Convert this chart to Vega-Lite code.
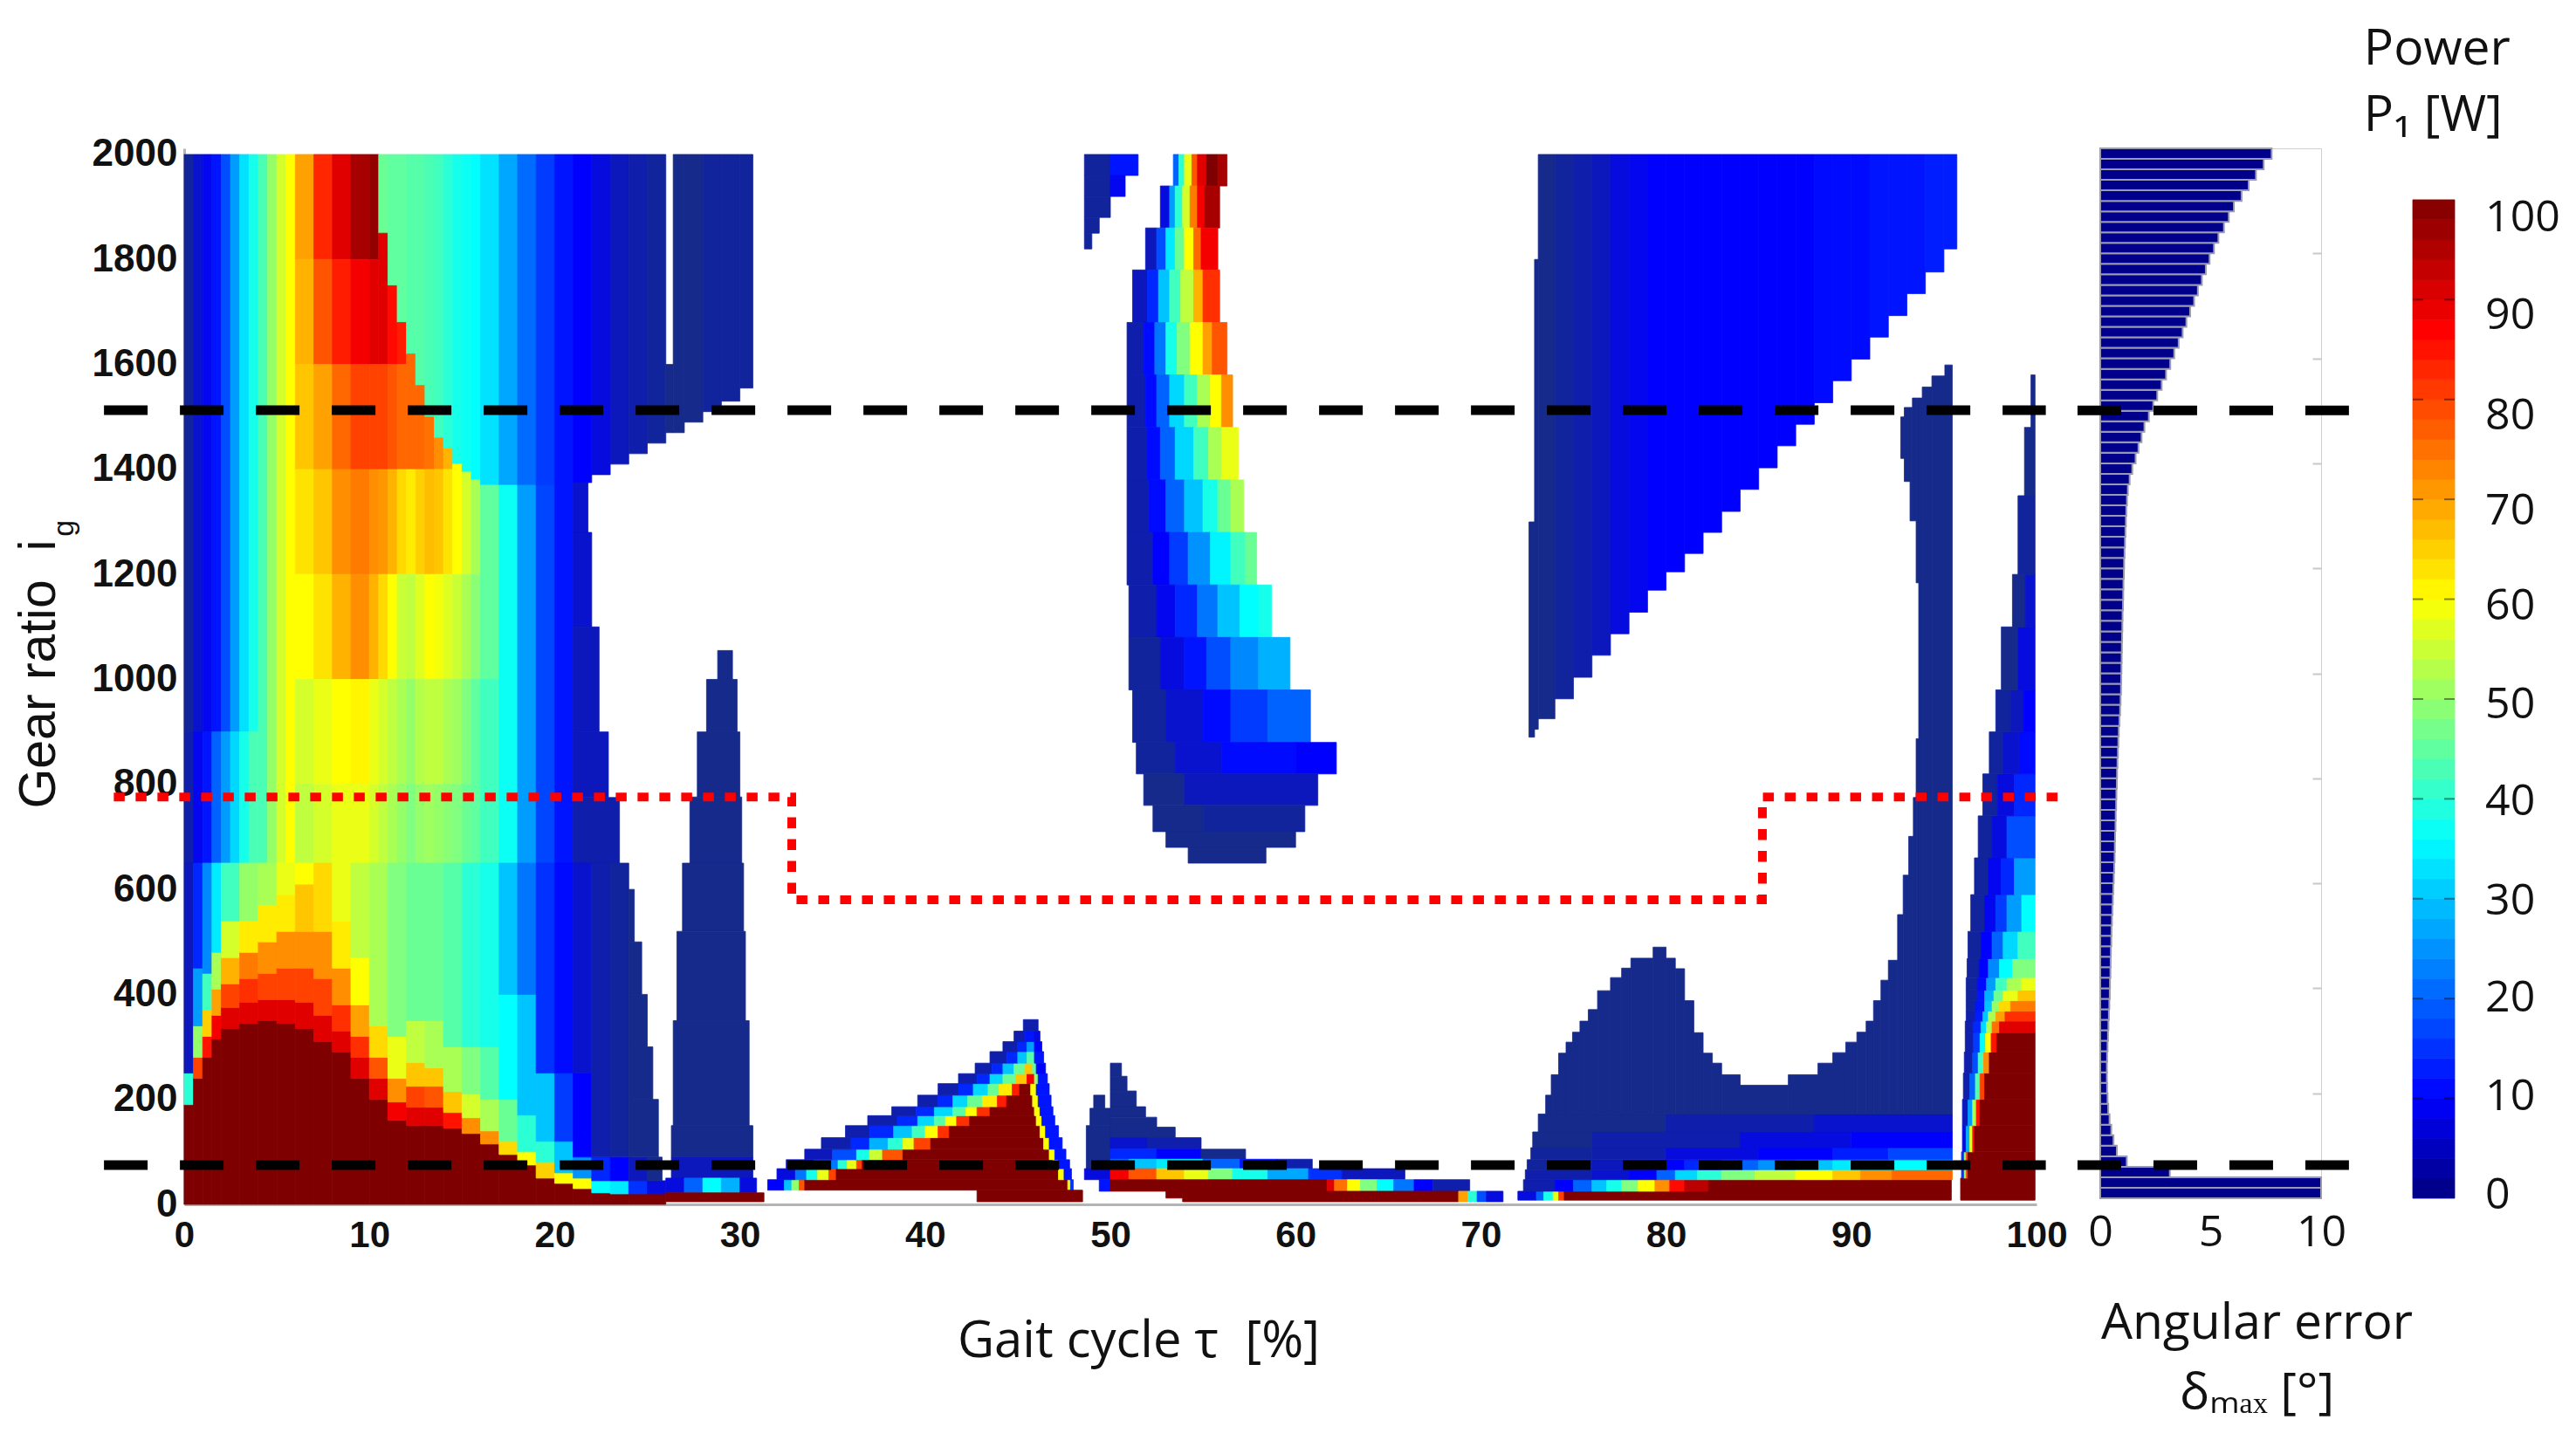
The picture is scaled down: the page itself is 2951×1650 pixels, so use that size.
{"$schema":"https://vega.github.io/schema/vega-lite/v6.json","padding":{"left":15,"top":28,"right":0,"bottom":0},"background":"white","config":{"view":{"stroke":null}},"datasets":{"h":[
{"a":0,"b":0.5,"c":900,"d":2000,"p":4},{"a":0.5,"b":1,"c":900,"d":2000,"p":7},{"a":1,"b":1.5,"c":900,"d":2000,"p":9},{"a":1.5,"b":2,"c":900,"d":2000,"p":12},{"a":2,"b":2.5,"c":900,"d":2000,"p":18},{"a":2.5,"b":3,"c":900,"d":2000,"p":26},{"a":3,"b":3.5,"c":900,"d":2000,"p":33},{"a":3.5,"b":4,"c":900,"d":2000,"p":38},
{"a":0,"b":0.5,"c":650,"d":900,"p":5},{"a":0.5,"b":1,"c":650,"d":900,"p":9},{"a":1,"b":1.5,"c":650,"d":900,"p":12},{"a":1.5,"b":2,"c":650,"d":900,"p":20},{"a":2,"b":2.5,"c":650,"d":900,"p":26},{"a":2.5,"b":3,"c":650,"d":900,"p":32},{"a":3,"b":3.5,"c":650,"d":900,"p":38},{"a":3.5,"b":4,"c":650,"d":900,"p":43},
{"a":4,"b":4.5,"c":650,"d":2000,"p":43},{"a":4.5,"b":5,"c":650,"d":2000,"p":50},{"a":5,"b":5.5,"c":650,"d":2000,"p":56},{"a":5.5,"b":6,"c":650,"d":2000,"p":60},
{"a":6,"b":7,"c":1800,"d":2000,"p":70},{"a":6,"b":7,"c":1600,"d":1800,"p":68},{"a":6,"b":7,"c":1400,"d":1600,"p":66},{"a":6,"b":7,"c":1200,"d":1400,"p":63},{"a":6,"b":7,"c":1000,"d":1200,"p":60},{"a":6,"b":7,"c":800,"d":1000,"p":56},{"a":6,"b":7,"c":650,"d":800,"p":54},
{"a":7,"b":8,"c":1800,"d":2000,"p":83},{"a":7,"b":8,"c":1600,"d":1800,"p":78},{"a":7,"b":8,"c":1400,"d":1600,"p":70},{"a":7,"b":8,"c":1200,"d":1400,"p":66},{"a":7,"b":8,"c":1000,"d":1200,"p":63},{"a":7,"b":8,"c":800,"d":1000,"p":58},{"a":7,"b":8,"c":650,"d":800,"p":56},
{"a":8,"b":9,"c":1800,"d":2000,"p":90},{"a":8,"b":9,"c":1600,"d":1800,"p":84},{"a":8,"b":9,"c":1400,"d":1600,"p":76},{"a":8,"b":9,"c":1200,"d":1400,"p":72},{"a":8,"b":9,"c":1000,"d":1200,"p":68},{"a":8,"b":9,"c":800,"d":1000,"p":60},{"a":8,"b":9,"c":650,"d":800,"p":58},
{"a":9,"b":10,"c":1800,"d":2000,"p":96},{"a":9,"b":10,"c":1600,"d":1800,"p":88},{"a":9,"b":10,"c":1400,"d":1600,"p":80},{"a":9,"b":10,"c":1200,"d":1400,"p":74},{"a":9,"b":10,"c":1000,"d":1200,"p":72},{"a":9,"b":10,"c":800,"d":1000,"p":61},{"a":9,"b":10,"c":650,"d":800,"p":58},
{"a":10,"b":10.5,"c":1800,"d":2000,"p":98},{"a":10,"b":10.5,"c":1600,"d":1800,"p":90},{"a":10,"b":10.5,"c":1400,"d":1600,"p":80},{"a":10,"b":10.5,"c":1200,"d":1400,"p":72},{"a":10,"b":10.5,"c":1000,"d":1200,"p":68},{"a":10,"b":10.5,"c":800,"d":1000,"p":58},{"a":10,"b":10.5,"c":650,"d":800,"p":56},
{"a":10.5,"b":11,"c":1850,"d":2000,"p":46},{"a":10.5,"b":11,"c":1600,"d":1850,"p":90},{"a":10.5,"b":11,"c":1400,"d":1600,"p":80},{"a":10.5,"b":11,"c":1200,"d":1400,"p":71},{"a":10.5,"b":11,"c":1000,"d":1200,"p":64},{"a":10.5,"b":11,"c":800,"d":1000,"p":56},{"a":10.5,"b":11,"c":650,"d":800,"p":54},
{"a":11,"b":11.5,"c":1750,"d":2000,"p":45},{"a":11,"b":11.5,"c":1600,"d":1750,"p":86},{"a":11,"b":11.5,"c":1400,"d":1600,"p":78},{"a":11,"b":11.5,"c":1200,"d":1400,"p":68},{"a":11,"b":11.5,"c":1000,"d":1200,"p":60},{"a":11,"b":11.5,"c":800,"d":1000,"p":54},{"a":11,"b":11.5,"c":650,"d":800,"p":52},
{"a":11.5,"b":12,"c":1680,"d":2000,"p":45},{"a":11.5,"b":12,"c":1600,"d":1680,"p":84},{"a":11.5,"b":12,"c":1400,"d":1600,"p":76},{"a":11.5,"b":12,"c":1200,"d":1400,"p":64},{"a":11.5,"b":12,"c":1000,"d":1200,"p":55},{"a":11.5,"b":12,"c":800,"d":1000,"p":52},{"a":11.5,"b":12,"c":650,"d":800,"p":50},
{"a":12,"b":12.5,"c":1620,"d":2000,"p":44},{"a":12,"b":12.5,"c":1400,"d":1620,"p":76},{"a":12,"b":12.5,"c":1200,"d":1400,"p":62},{"a":12,"b":12.5,"c":1000,"d":1200,"p":54},{"a":12,"b":12.5,"c":800,"d":1000,"p":50},{"a":12,"b":12.5,"c":650,"d":800,"p":48},
{"a":12.5,"b":13,"c":1560,"d":2000,"p":44},{"a":12.5,"b":13,"c":1400,"d":1560,"p":76},{"a":12.5,"b":13,"c":1200,"d":1400,"p":65},{"a":12.5,"b":13,"c":1000,"d":1200,"p":57},{"a":12.5,"b":13,"c":800,"d":1000,"p":53},{"a":12.5,"b":13,"c":650,"d":800,"p":50},
{"a":13,"b":13.5,"c":1500,"d":2000,"p":43},{"a":13,"b":13.5,"c":1400,"d":1500,"p":75},{"a":13,"b":13.5,"c":1200,"d":1400,"p":67},{"a":13,"b":13.5,"c":1000,"d":1200,"p":60},{"a":13,"b":13.5,"c":800,"d":1000,"p":54},{"a":13,"b":13.5,"c":650,"d":800,"p":51},
{"a":13.5,"b":14,"c":1460,"d":2000,"p":42},{"a":13.5,"b":14,"c":1400,"d":1460,"p":72},{"a":13.5,"b":14,"c":1200,"d":1400,"p":66},{"a":13.5,"b":14,"c":1000,"d":1200,"p":59},{"a":13.5,"b":14,"c":800,"d":1000,"p":54},{"a":13.5,"b":14,"c":650,"d":800,"p":50},
{"a":14,"b":14.5,"c":1440,"d":2000,"p":40},{"a":14,"b":14.5,"c":1400,"d":1440,"p":68},{"a":14,"b":14.5,"c":1200,"d":1400,"p":63},{"a":14,"b":14.5,"c":1000,"d":1200,"p":57},{"a":14,"b":14.5,"c":800,"d":1000,"p":52},{"a":14,"b":14.5,"c":650,"d":800,"p":49},
{"a":14.5,"b":15,"c":1410,"d":2000,"p":38},{"a":14.5,"b":15,"c":1200,"d":1410,"p":60},{"a":14.5,"b":15,"c":1000,"d":1200,"p":55},{"a":14.5,"b":15,"c":800,"d":1000,"p":51},{"a":14.5,"b":15,"c":650,"d":800,"p":48},
{"a":15,"b":15.5,"c":1395,"d":2000,"p":37},{"a":15,"b":15.5,"c":1200,"d":1395,"p":56},{"a":15,"b":15.5,"c":1000,"d":1200,"p":52},{"a":15,"b":15.5,"c":800,"d":1000,"p":48},{"a":15,"b":15.5,"c":650,"d":800,"p":46},
{"a":15.5,"b":16,"c":1380,"d":2000,"p":36},{"a":15.5,"b":16,"c":1200,"d":1380,"p":52},{"a":15.5,"b":16,"c":1000,"d":1200,"p":49},{"a":15.5,"b":16,"c":650,"d":1000,"p":45},
{"a":16,"b":17,"c":1370,"d":2000,"p":33},{"a":16,"b":17,"c":1000,"d":1370,"p":45},{"a":16,"b":17,"c":650,"d":1000,"p":42},
{"a":17,"b":18,"c":1370,"d":2000,"p":27},{"a":17,"b":18,"c":650,"d":1370,"p":37},
{"a":18,"b":19,"c":1370,"d":2000,"p":21},{"a":18,"b":19,"c":650,"d":1370,"p":26},
{"a":19,"b":20,"c":1370,"d":2000,"p":16},{"a":19,"b":20,"c":650,"d":1370,"p":17},
{"a":20,"b":21,"c":650,"d":2000,"p":12},
{"a":21,"b":22,"c":1375,"d":2000,"p":10},{"a":22,"b":23,"c":1390,"d":2000,"p":8},{"a":23,"b":24,"c":1410,"d":2000,"p":6},{"a":24,"b":25,"c":1430,"d":2000,"p":5},{"a":25,"b":26,"c":1450,"d":2000,"p":4},{"a":26,"b":26.4,"c":1470,"d":1600,"p":3},{"a":26.4,"b":27,"c":1470,"d":2000,"p":3},{"a":27,"b":28,"c":1490,"d":2000,"p":3},{"a":28,"b":29,"c":1510,"d":2000,"p":4},{"a":29,"b":30,"c":1530,"d":2000,"p":4},{"a":30,"b":30.7,"c":1555,"d":2000,"p":4},
{"a":21,"b":21.8,"c":1280,"d":1375,"p":7},{"a":21,"b":22,"c":1100,"d":1280,"p":7},{"a":21,"b":22.4,"c":900,"d":1100,"p":6},{"a":21,"b":22.9,"c":775,"d":900,"p":6},{"a":21,"b":23.5,"c":650,"d":775,"p":5},
{"a":0,"b":0.5,"c":0,"d":190,"p":100},{"a":0,"b":0.5,"c":190,"d":250,"p":40},{"a":0,"b":0.5,"c":250,"d":650,"p":6},
{"a":0.5,"b":1,"c":0,"d":240,"p":100},{"a":0.5,"b":1,"c":240,"d":280,"p":80},{"a":0.5,"b":1,"c":280,"d":340,"p":50},{"a":0.5,"b":1,"c":340,"d":450,"p":26},{"a":0.5,"b":1,"c":450,"d":650,"p":14},
{"a":1,"b":1.5,"c":0,"d":280,"p":100},{"a":1,"b":1.5,"c":280,"d":320,"p":85},{"a":1,"b":1.5,"c":320,"d":370,"p":65},{"a":1,"b":1.5,"c":370,"d":440,"p":42},{"a":1,"b":1.5,"c":440,"d":650,"p":24},
{"a":1.5,"b":2,"c":0,"d":315,"p":100},{"a":1.5,"b":2,"c":315,"d":360,"p":88},{"a":1.5,"b":2,"c":360,"d":410,"p":70},{"a":1.5,"b":2,"c":410,"d":480,"p":52},{"a":1.5,"b":2,"c":480,"d":650,"p":34},
{"a":2,"b":3,"c":0,"d":335,"p":100},{"a":2,"b":3,"c":335,"d":375,"p":90},{"a":2,"b":3,"c":375,"d":420,"p":80},{"a":2,"b":3,"c":420,"d":470,"p":68},{"a":2,"b":3,"c":470,"d":540,"p":56},{"a":2,"b":3,"c":540,"d":650,"p":42},
{"a":3,"b":4,"c":0,"d":345,"p":100},{"a":3,"b":4,"c":345,"d":385,"p":90},{"a":3,"b":4,"c":385,"d":430,"p":82},{"a":3,"b":4,"c":430,"d":480,"p":74},{"a":3,"b":4,"c":480,"d":540,"p":62},{"a":3,"b":4,"c":540,"d":650,"p":50},
{"a":4,"b":5,"c":0,"d":350,"p":100},{"a":4,"b":5,"c":350,"d":390,"p":90},{"a":4,"b":5,"c":390,"d":440,"p":80},{"a":4,"b":5,"c":440,"d":500,"p":72},{"a":4,"b":5,"c":500,"d":570,"p":62},{"a":4,"b":5,"c":570,"d":650,"p":52},
{"a":5,"b":6,"c":0,"d":345,"p":100},{"a":5,"b":6,"c":345,"d":390,"p":90},{"a":5,"b":6,"c":390,"d":450,"p":80},{"a":5,"b":6,"c":450,"d":520,"p":72},{"a":5,"b":6,"c":520,"d":590,"p":62},{"a":5,"b":6,"c":590,"d":650,"p":58},
{"a":6,"b":7,"c":0,"d":335,"p":100},{"a":6,"b":7,"c":335,"d":385,"p":90},{"a":6,"b":7,"c":385,"d":450,"p":80},{"a":6,"b":7,"c":450,"d":520,"p":72},{"a":6,"b":7,"c":520,"d":610,"p":66},{"a":6,"b":7,"c":610,"d":650,"p":60},
{"a":7,"b":8,"c":0,"d":310,"p":100},{"a":7,"b":8,"c":310,"d":360,"p":90},{"a":7,"b":8,"c":360,"d":430,"p":80},{"a":7,"b":8,"c":430,"d":520,"p":72},{"a":7,"b":8,"c":520,"d":650,"p":64},
{"a":8,"b":9,"c":0,"d":290,"p":100},{"a":8,"b":9,"c":290,"d":330,"p":90},{"a":8,"b":9,"c":330,"d":380,"p":82},{"a":8,"b":9,"c":380,"d":450,"p":72},{"a":8,"b":9,"c":450,"d":540,"p":62},{"a":8,"b":9,"c":540,"d":650,"p":58},
{"a":9,"b":10,"c":0,"d":240,"p":100},{"a":9,"b":10,"c":240,"d":280,"p":90},{"a":9,"b":10,"c":280,"d":320,"p":82},{"a":9,"b":10,"c":320,"d":380,"p":70},{"a":9,"b":10,"c":380,"d":470,"p":60},{"a":9,"b":10,"c":470,"d":650,"p":54},
{"a":10,"b":11,"c":0,"d":200,"p":100},{"a":10,"b":11,"c":200,"d":240,"p":90},{"a":10,"b":11,"c":240,"d":280,"p":78},{"a":10,"b":11,"c":280,"d":340,"p":64},{"a":10,"b":11,"c":340,"d":650,"p":52},
{"a":11,"b":12,"c":0,"d":160,"p":100},{"a":11,"b":12,"c":160,"d":195,"p":88},{"a":11,"b":12,"c":195,"d":240,"p":72},{"a":11,"b":12,"c":240,"d":320,"p":58},{"a":11,"b":12,"c":320,"d":650,"p":48},
{"a":12,"b":13,"c":0,"d":150,"p":100},{"a":12,"b":13,"c":150,"d":185,"p":90},{"a":12,"b":13,"c":185,"d":225,"p":80},{"a":12,"b":13,"c":225,"d":270,"p":66},{"a":12,"b":13,"c":270,"d":350,"p":54},{"a":12,"b":13,"c":350,"d":650,"p":46},
{"a":13,"b":14,"c":0,"d":150,"p":100},{"a":13,"b":14,"c":150,"d":185,"p":90},{"a":13,"b":14,"c":185,"d":225,"p":78},{"a":13,"b":14,"c":225,"d":260,"p":66},{"a":13,"b":14,"c":260,"d":350,"p":52},{"a":13,"b":14,"c":350,"d":650,"p":46},
{"a":14,"b":15,"c":0,"d":145,"p":100},{"a":14,"b":15,"c":145,"d":175,"p":85},{"a":14,"b":15,"c":175,"d":215,"p":66},{"a":14,"b":15,"c":215,"d":300,"p":52},{"a":14,"b":15,"c":300,"d":650,"p":44},
{"a":15,"b":16,"c":0,"d":135,"p":100},{"a":15,"b":16,"c":135,"d":165,"p":72},{"a":15,"b":16,"c":165,"d":210,"p":56},{"a":15,"b":16,"c":210,"d":300,"p":48},{"a":15,"b":16,"c":300,"d":650,"p":40},
{"a":16,"b":17,"c":0,"d":115,"p":100},{"a":16,"b":17,"c":115,"d":140,"p":72},{"a":16,"b":17,"c":140,"d":200,"p":52},{"a":16,"b":17,"c":200,"d":300,"p":44},{"a":16,"b":17,"c":300,"d":650,"p":38},
{"a":17,"b":18,"c":0,"d":95,"p":100},{"a":17,"b":18,"c":95,"d":120,"p":64},{"a":17,"b":18,"c":120,"d":200,"p":46},{"a":17,"b":18,"c":200,"d":400,"p":36},{"a":17,"b":18,"c":400,"d":650,"p":30},
{"a":18,"b":19,"c":0,"d":75,"p":100},{"a":18,"b":19,"c":75,"d":100,"p":60},{"a":18,"b":19,"c":100,"d":170,"p":40},{"a":18,"b":19,"c":170,"d":400,"p":30},{"a":18,"b":19,"c":400,"d":650,"p":22},
{"a":19,"b":20,"c":0,"d":50,"p":100},{"a":19,"b":20,"c":50,"d":80,"p":65},{"a":19,"b":20,"c":80,"d":120,"p":40},{"a":19,"b":20,"c":120,"d":250,"p":30},{"a":19,"b":20,"c":250,"d":650,"p":15},
{"a":20,"b":21,"c":0,"d":40,"p":100},{"a":20,"b":21,"c":40,"d":60,"p":60},{"a":20,"b":21,"c":60,"d":120,"p":30},{"a":20,"b":21,"c":120,"d":250,"p":16},{"a":20,"b":21,"c":250,"d":650,"p":11},
{"a":21,"b":22,"c":0,"d":30,"p":100},{"a":21,"b":22,"c":30,"d":50,"p":60},{"a":21,"b":22,"c":50,"d":90,"p":25},{"a":21,"b":22,"c":90,"d":250,"p":10},{"a":21,"b":22,"c":250,"d":650,"p":7},
{"a":22,"b":23,"c":0,"d":22,"p":100},{"a":22,"b":23,"c":22,"d":45,"p":36},{"a":22,"b":23,"c":45,"d":90,"p":14},{"a":22,"b":23,"c":90,"d":650,"p":5},
{"a":23,"b":24,"c":0,"d":20,"p":100},{"a":23,"b":24,"c":20,"d":45,"p":34},{"a":23,"b":24,"c":45,"d":90,"p":10},{"a":23,"b":24,"c":90,"d":650,"p":4},
{"a":24,"b":25,"c":0,"d":20,"p":100},{"a":24,"b":25,"c":20,"d":45,"p":15},{"a":24,"b":25,"c":45,"d":90,"p":6},
{"a":25,"b":26,"c":0,"d":20,"p":100},{"a":25,"b":26,"c":20,"d":45,"p":8},{"a":25,"b":25.8,"c":45,"d":90,"p":3},
{"a":24,"b":24.3,"c":500,"d":600,"p":3},{"a":24,"b":24.7,"c":400,"d":500,"p":3},{"a":24,"b":25,"c":300,"d":400,"p":3},{"a":24,"b":25.3,"c":200,"d":300,"p":3},{"a":24,"b":25.6,"c":90,"d":200,"p":3},
{"a":28.8,"b":29.6,"c":1000,"d":1055,"p":3},{"a":28.2,"b":29.85,"c":900,"d":1000,"p":3},{"a":27.7,"b":30,"c":776,"d":900,"p":3},{"a":27.3,"b":30.1,"c":650,"d":776,"p":3},{"a":26.9,"b":30.2,"c":520,"d":650,"p":3},{"a":26.6,"b":30.3,"c":350,"d":520,"p":3},{"a":26.4,"b":30.5,"c":150,"d":350,"p":3},{"a":26.3,"b":30.7,"c":90,"d":150,"p":3},{"a":26.3,"b":30.7,"c":50,"d":90,"p":6},
{"a":26,"b":27,"c":22,"d":50,"p":8},{"a":27,"b":28,"c":22,"d":50,"p":20},{"a":28,"b":29,"c":22,"d":50,"p":36},{"a":29,"b":30,"c":22,"d":50,"p":28},{"a":30,"b":30.9,"c":22,"d":50,"p":8},{"a":26,"b":31.3,"c":5,"d":22,"p":100},
{"a":31.5,"b":32.4,"c":27,"d":47,"p":10},{"a":32.4,"b":32.8,"c":27,"d":47,"p":30},{"a":32.8,"b":33.2,"c":27,"d":47,"p":50},{"a":33.2,"b":33.5,"c":27,"d":47,"p":78},{"a":33.5,"b":47.7,"c":27,"d":47,"p":100},{"a":47.7,"b":47.85,"c":27,"d":47,"p":60},{"a":47.85,"b":48,"c":27,"d":47,"p":15},
{"a":32,"b":33,"c":47,"d":68,"p":8},{"a":33,"b":33.6,"c":47,"d":68,"p":22},{"a":33.6,"b":34.2,"c":47,"d":68,"p":38},{"a":34.2,"b":34.8,"c":47,"d":68,"p":58},{"a":34.8,"b":35.2,"c":47,"d":68,"p":80},{"a":35.2,"b":47.2,"c":47,"d":68,"p":100},{"a":47.2,"b":47.5,"c":47,"d":68,"p":60},{"a":47.5,"b":47.9,"c":47,"d":68,"p":12},
{"a":32.5,"b":34,"c":68,"d":85,"p":6},{"a":34,"b":35.3,"c":68,"d":85,"p":22},{"a":35.3,"b":35.8,"c":68,"d":85,"p":40},{"a":35.8,"b":36.3,"c":68,"d":85,"p":58},{"a":36.3,"b":36.6,"c":68,"d":85,"p":80},{"a":36.6,"b":46.9,"c":68,"d":85,"p":100},{"a":46.9,"b":47.2,"c":68,"d":85,"p":60},{"a":47.2,"b":47.8,"c":68,"d":85,"p":12},
{"a":33.5,"b":35,"c":85,"d":105,"p":6},{"a":35,"b":36.3,"c":85,"d":105,"p":18},{"a":36.3,"b":37,"c":85,"d":105,"p":38},{"a":37,"b":37.7,"c":85,"d":105,"p":55},{"a":37.7,"b":38.8,"c":85,"d":105,"p":78},{"a":38.8,"b":46.7,"c":85,"d":105,"p":100},{"a":46.7,"b":47,"c":85,"d":105,"p":60},{"a":47,"b":47.6,"c":85,"d":105,"p":12},
{"a":34.4,"b":36,"c":105,"d":127,"p":5},{"a":36,"b":37,"c":105,"d":127,"p":14},{"a":37,"b":38,"c":105,"d":127,"p":28},{"a":38,"b":38.8,"c":105,"d":127,"p":40},{"a":38.8,"b":39.4,"c":105,"d":127,"p":58},{"a":39.4,"b":40.3,"c":105,"d":127,"p":80},{"a":40.3,"b":46.4,"c":105,"d":127,"p":100},{"a":46.4,"b":46.7,"c":105,"d":127,"p":60},{"a":46.7,"b":47.4,"c":105,"d":127,"p":12},
{"a":35.7,"b":37,"c":127,"d":150,"p":5},{"a":37,"b":38.3,"c":127,"d":150,"p":14},{"a":38.3,"b":39.3,"c":127,"d":150,"p":30},{"a":39.3,"b":40,"c":127,"d":150,"p":42},{"a":40,"b":40.7,"c":127,"d":150,"p":60},{"a":40.7,"b":41.3,"c":127,"d":150,"p":82},{"a":41.3,"b":46.2,"c":127,"d":150,"p":100},{"a":46.2,"b":46.5,"c":127,"d":150,"p":60},{"a":46.5,"b":47.2,"c":127,"d":150,"p":12},
{"a":36.9,"b":38.5,"c":150,"d":169,"p":5},{"a":38.5,"b":39.6,"c":150,"d":169,"p":14},{"a":39.6,"b":40.5,"c":150,"d":169,"p":32},{"a":40.5,"b":41.1,"c":150,"d":169,"p":44},{"a":41.1,"b":41.7,"c":150,"d":169,"p":60},{"a":41.7,"b":42.4,"c":150,"d":169,"p":82},{"a":42.4,"b":46,"c":150,"d":169,"p":100},{"a":46,"b":46.3,"c":150,"d":169,"p":60},{"a":46.3,"b":47,"c":150,"d":169,"p":12},
{"a":38.2,"b":39.5,"c":169,"d":186,"p":5},{"a":39.5,"b":40.5,"c":169,"d":186,"p":14},{"a":40.5,"b":41.5,"c":169,"d":186,"p":32},{"a":41.5,"b":42.2,"c":169,"d":186,"p":44},{"a":42.2,"b":42.8,"c":169,"d":186,"p":60},{"a":42.8,"b":43.5,"c":169,"d":186,"p":82},{"a":43.5,"b":45.9,"c":169,"d":186,"p":100},{"a":45.9,"b":46.2,"c":169,"d":186,"p":60},{"a":46.2,"b":46.9,"c":169,"d":186,"p":12},
{"a":39.6,"b":40.7,"c":186,"d":208,"p":5},{"a":40.7,"b":41.5,"c":186,"d":208,"p":14},{"a":41.5,"b":42.3,"c":186,"d":208,"p":32},{"a":42.3,"b":43.1,"c":186,"d":208,"p":46},{"a":43.1,"b":43.9,"c":186,"d":208,"p":62},{"a":43.9,"b":44.4,"c":186,"d":208,"p":84},{"a":44.4,"b":45.8,"c":186,"d":208,"p":100},{"a":45.8,"b":46.1,"c":186,"d":208,"p":60},{"a":46.1,"b":46.8,"c":186,"d":208,"p":12},
{"a":40.7,"b":41.8,"c":208,"d":230,"p":5},{"a":41.8,"b":42.6,"c":208,"d":230,"p":14},{"a":42.6,"b":43.4,"c":208,"d":230,"p":32},{"a":43.4,"b":44,"c":208,"d":230,"p":46},{"a":44,"b":44.7,"c":208,"d":230,"p":62},{"a":44.7,"b":45.1,"c":208,"d":230,"p":84},{"a":45.1,"b":45.7,"c":208,"d":230,"p":100},{"a":45.7,"b":46,"c":208,"d":230,"p":60},{"a":46,"b":46.7,"c":208,"d":230,"p":12},
{"a":41.8,"b":42.8,"c":230,"d":249,"p":5},{"a":42.8,"b":43.5,"c":230,"d":249,"p":14},{"a":43.5,"b":44.2,"c":230,"d":249,"p":32},{"a":44.2,"b":44.9,"c":230,"d":249,"p":46},{"a":44.9,"b":45.5,"c":230,"d":249,"p":66},{"a":45.5,"b":45.9,"c":230,"d":249,"p":88},{"a":45.9,"b":46.1,"c":230,"d":249,"p":50},{"a":46.1,"b":46.6,"c":230,"d":249,"p":12},
{"a":42.7,"b":43.6,"c":249,"d":269,"p":5},{"a":43.6,"b":44.2,"c":249,"d":269,"p":14},{"a":44.2,"b":44.8,"c":249,"d":269,"p":30},{"a":44.8,"b":45.4,"c":249,"d":269,"p":46},{"a":45.4,"b":45.8,"c":249,"d":269,"p":66},{"a":45.8,"b":46,"c":249,"d":269,"p":45},{"a":46,"b":46.5,"c":249,"d":269,"p":10},
{"a":43.5,"b":44.4,"c":269,"d":291,"p":5},{"a":44.4,"b":45,"c":269,"d":291,"p":14},{"a":45,"b":45.5,"c":269,"d":291,"p":30},{"a":45.5,"b":45.9,"c":269,"d":291,"p":44},{"a":45.9,"b":46.4,"c":269,"d":291,"p":12},
{"a":44.2,"b":45,"c":291,"d":310,"p":5},{"a":45,"b":45.5,"c":291,"d":310,"p":14},{"a":45.5,"b":45.9,"c":291,"d":310,"p":26},{"a":45.9,"b":46.3,"c":291,"d":310,"p":10},
{"a":44.8,"b":45.4,"c":310,"d":330,"p":5},{"a":45.4,"b":45.9,"c":310,"d":330,"p":12},{"a":45.9,"b":46.2,"c":310,"d":330,"p":8},{"a":45.3,"b":46.1,"c":330,"d":352,"p":5},
{"a":42.8,"b":48.5,"c":5,"d":27,"p":100},
{"a":49.1,"b":49.7,"c":183,"d":208,"p":3},{"a":48.9,"b":50,"c":150,"d":183,"p":3},{"a":48.7,"b":50,"c":68,"d":150,"p":3},{"a":48.6,"b":50,"c":47,"d":68,"p":8},{"a":49.4,"b":50,"c":25,"d":47,"p":12},
{"a":50,"b":50.6,"c":244,"d":269,"p":3},{"a":50,"b":50.9,"c":216,"d":244,"p":3},{"a":50,"b":51.4,"c":186,"d":216,"p":3},{"a":50,"b":51.9,"c":166,"d":186,"p":3},{"a":50,"b":52.5,"c":147,"d":166,"p":3},{"a":50,"b":53.5,"c":127,"d":147,"p":3},
{"a":50,"b":52,"c":105,"d":127,"p":7},{"a":52,"b":54.9,"c":105,"d":127,"p":5},{"a":50,"b":52.5,"c":86,"d":105,"p":14},{"a":52.5,"b":54.9,"c":86,"d":105,"p":10},{"a":54.9,"b":57.3,"c":86,"d":105,"p":3},
{"a":50,"b":51,"c":68,"d":86,"p":20},{"a":51,"b":52.5,"c":68,"d":86,"p":30},{"a":52.5,"b":55,"c":68,"d":86,"p":34},{"a":55,"b":57,"c":68,"d":86,"p":20},{"a":57,"b":59,"c":68,"d":86,"p":12},{"a":59,"b":60.9,"c":68,"d":86,"p":5},
{"a":50,"b":51,"c":47,"d":68,"p":88},{"a":51,"b":52.5,"c":47,"d":68,"p":78},{"a":52.5,"b":54,"c":47,"d":68,"p":66},{"a":54,"b":55.3,"c":47,"d":68,"p":58},{"a":55.3,"b":56.6,"c":47,"d":68,"p":48},{"a":56.6,"b":58.5,"c":47,"d":68,"p":38},{"a":58.5,"b":60.7,"c":47,"d":68,"p":27},{"a":60.7,"b":62.5,"c":47,"d":68,"p":15},{"a":62.5,"b":65.9,"c":47,"d":68,"p":6},
{"a":50,"b":61.7,"c":25,"d":47,"p":100},{"a":61.7,"b":62.1,"c":25,"d":47,"p":90},{"a":62.1,"b":62.8,"c":25,"d":47,"p":75},{"a":62.8,"b":63.5,"c":25,"d":47,"p":60},{"a":63.5,"b":64.4,"c":25,"d":47,"p":48},{"a":64.4,"b":65.3,"c":25,"d":47,"p":36},{"a":65.3,"b":66.4,"c":25,"d":47,"p":22},{"a":66.4,"b":67.4,"c":25,"d":47,"p":10},{"a":67.4,"b":69.4,"c":25,"d":47,"p":5},
{"a":53,"b":53.9,"c":12,"d":25,"p":100},{"a":53.9,"b":68.8,"c":5,"d":25,"p":100},{"a":68.8,"b":69.3,"c":5,"d":25,"p":70},{"a":69.3,"b":69.8,"c":5,"d":25,"p":40},{"a":69.8,"b":70.3,"c":5,"d":25,"p":18},{"a":70.3,"b":71.2,"c":5,"d":25,"p":8},
{"a":48.6,"b":50,"c":1960,"d":2000,"p":4},{"a":50,"b":51.5,"c":1960,"d":2000,"p":12},{"a":48.6,"b":50,"c":1920,"d":1960,"p":4},{"a":50,"b":50.8,"c":1920,"d":1960,"p":9},{"a":48.6,"b":50,"c":1880,"d":1920,"p":4},{"a":48.6,"b":49.4,"c":1850,"d":1880,"p":4},{"a":48.6,"b":49,"c":1820,"d":1850,"p":4},
{"a":53.4,"b":53.7,"c":1940,"d":2000,"p":20},{"a":53.7,"b":54,"c":1940,"d":2000,"p":40},{"a":54,"b":54.4,"c":1940,"d":2000,"p":58},{"a":54.4,"b":54.7,"c":1940,"d":2000,"p":78},{"a":54.7,"b":55.2,"c":1940,"d":2000,"p":90},{"a":55.2,"b":55.8,"c":1940,"d":2000,"p":100},{"a":55.8,"b":56.3,"c":1940,"d":2000,"p":96},
{"a":52.7,"b":53.2,"c":1860,"d":1940,"p":8},{"a":53.2,"b":53.5,"c":1860,"d":1940,"p":26},{"a":53.5,"b":53.9,"c":1860,"d":1940,"p":40},{"a":53.9,"b":54.3,"c":1860,"d":1940,"p":56},{"a":54.3,"b":54.7,"c":1860,"d":1940,"p":74},{"a":54.7,"b":55.1,"c":1860,"d":1940,"p":88},{"a":55.1,"b":55.9,"c":1860,"d":1940,"p":96},
{"a":51.9,"b":52.5,"c":1780,"d":1860,"p":6},{"a":52.5,"b":53,"c":1780,"d":1860,"p":18},{"a":53,"b":53.5,"c":1780,"d":1860,"p":34},{"a":53.5,"b":54,"c":1780,"d":1860,"p":46},{"a":54,"b":54.5,"c":1780,"d":1860,"p":60},{"a":54.5,"b":54.9,"c":1780,"d":1860,"p":76},{"a":54.9,"b":55.8,"c":1780,"d":1860,"p":88},
{"a":51.2,"b":52,"c":1680,"d":1780,"p":6},{"a":52,"b":52.6,"c":1680,"d":1780,"p":14},{"a":52.6,"b":53.2,"c":1680,"d":1780,"p":30},{"a":53.2,"b":53.8,"c":1680,"d":1780,"p":42},{"a":53.8,"b":54.5,"c":1680,"d":1780,"p":54},{"a":54.5,"b":55,"c":1680,"d":1780,"p":68},{"a":55,"b":55.9,"c":1680,"d":1780,"p":82},
{"a":50.9,"b":51.8,"c":1580,"d":1680,"p":5},{"a":51.8,"b":52.4,"c":1580,"d":1680,"p":11},{"a":52.4,"b":53,"c":1580,"d":1680,"p":22},{"a":53,"b":53.6,"c":1580,"d":1680,"p":38},{"a":53.6,"b":54.3,"c":1580,"d":1680,"p":48},{"a":54.3,"b":55,"c":1580,"d":1680,"p":60},{"a":55,"b":55.5,"c":1580,"d":1680,"p":70},{"a":55.5,"b":56.3,"c":1580,"d":1680,"p":78},
{"a":50.9,"b":51.9,"c":1480,"d":1580,"p":5},{"a":51.9,"b":52.5,"c":1480,"d":1580,"p":11},{"a":52.5,"b":53.2,"c":1480,"d":1580,"p":20},{"a":53.2,"b":54,"c":1480,"d":1580,"p":32},{"a":54,"b":54.7,"c":1480,"d":1580,"p":42},{"a":54.7,"b":55.4,"c":1480,"d":1580,"p":52},{"a":55.4,"b":56,"c":1480,"d":1580,"p":60},{"a":56,"b":56.6,"c":1480,"d":1580,"p":72},
{"a":50.9,"b":52,"c":1380,"d":1480,"p":5},{"a":52,"b":52.7,"c":1380,"d":1480,"p":11},{"a":52.7,"b":53.5,"c":1380,"d":1480,"p":20},{"a":53.5,"b":54.5,"c":1380,"d":1480,"p":32},{"a":54.5,"b":55.3,"c":1380,"d":1480,"p":42},{"a":55.3,"b":56,"c":1380,"d":1480,"p":52},{"a":56,"b":56.9,"c":1380,"d":1480,"p":58},
{"a":50.9,"b":52.1,"c":1280,"d":1380,"p":5},{"a":52.1,"b":53,"c":1280,"d":1380,"p":11},{"a":53,"b":54,"c":1280,"d":1380,"p":20},{"a":54,"b":55,"c":1280,"d":1380,"p":30},{"a":55,"b":55.8,"c":1280,"d":1380,"p":38},{"a":55.8,"b":56.5,"c":1280,"d":1380,"p":46},{"a":56.5,"b":57.2,"c":1280,"d":1380,"p":52},
{"a":50.9,"b":52.3,"c":1180,"d":1280,"p":5},{"a":52.3,"b":53.2,"c":1180,"d":1280,"p":10},{"a":53.2,"b":54.2,"c":1180,"d":1280,"p":16},{"a":54.2,"b":55.4,"c":1180,"d":1280,"p":25},{"a":55.4,"b":56.5,"c":1180,"d":1280,"p":35},{"a":56.5,"b":57.3,"c":1180,"d":1280,"p":42},{"a":57.3,"b":57.9,"c":1180,"d":1280,"p":46},
{"a":51,"b":52.5,"c":1080,"d":1180,"p":5},{"a":52.5,"b":53.5,"c":1080,"d":1180,"p":9},{"a":53.5,"b":54.7,"c":1080,"d":1180,"p":14},{"a":54.7,"b":55.8,"c":1080,"d":1180,"p":22},{"a":55.8,"b":57,"c":1080,"d":1180,"p":30},{"a":57,"b":58,"c":1080,"d":1180,"p":36},{"a":58,"b":58.7,"c":1080,"d":1180,"p":38},
{"a":51,"b":52.7,"c":980,"d":1080,"p":4},{"a":52.7,"b":54,"c":980,"d":1080,"p":8},{"a":54,"b":55.2,"c":980,"d":1080,"p":12},{"a":55.2,"b":56.5,"c":980,"d":1080,"p":18},{"a":56.5,"b":58,"c":980,"d":1080,"p":24},{"a":58,"b":59.7,"c":980,"d":1080,"p":28},
{"a":51.2,"b":53,"c":880,"d":980,"p":4},{"a":53,"b":55,"c":880,"d":980,"p":7},{"a":55,"b":56.5,"c":880,"d":980,"p":11},{"a":56.5,"b":58.5,"c":880,"d":980,"p":16},{"a":58.5,"b":60.8,"c":880,"d":980,"p":20},
{"a":51.4,"b":53.5,"c":820,"d":880,"p":4},{"a":53.5,"b":56,"c":820,"d":880,"p":7},{"a":56,"b":60,"c":820,"d":880,"p":11},{"a":60,"b":62.2,"c":820,"d":880,"p":10},
{"a":51.8,"b":54,"c":760,"d":820,"p":3},{"a":54,"b":61.2,"c":760,"d":820,"p":6},{"a":52.3,"b":55,"c":710,"d":760,"p":3},{"a":55,"b":60.5,"c":710,"d":760,"p":4},{"a":53,"b":60,"c":680,"d":710,"p":3},{"a":54.2,"b":58.4,"c":650,"d":680,"p":3},
{"a":72.6,"b":72.9,"c":890,"d":1300,"p":3},{"a":72.9,"b":73.1,"c":905,"d":1800,"p":3},{"a":73.1,"b":74,"c":925,"d":2000,"p":3},{"a":74,"b":75,"c":963,"d":2000,"p":4},{"a":75,"b":76,"c":1004,"d":2000,"p":5},{"a":76,"b":77,"c":1046,"d":2000,"p":6},{"a":77,"b":78,"c":1087,"d":2000,"p":8},{"a":78,"b":79,"c":1128,"d":2000,"p":9},{"a":79,"b":80,"c":1170,"d":2000,"p":10},{"a":80,"b":81,"c":1205,"d":2000,"p":10},{"a":81,"b":82,"c":1240,"d":2000,"p":10},{"a":82,"b":83,"c":1280,"d":2000,"p":10},{"a":83,"b":84,"c":1320,"d":2000,"p":10},{"a":84,"b":85,"c":1362,"d":2000,"p":10},{"a":85,"b":86,"c":1403,"d":2000,"p":10},{"a":86,"b":87,"c":1445,"d":2000,"p":10},{"a":87,"b":88,"c":1486,"d":2000,"p":10},{"a":88,"b":89,"c":1527,"d":2000,"p":11},{"a":89,"b":90,"c":1569,"d":2000,"p":11},{"a":90,"b":91,"c":1610,"d":2000,"p":11},{"a":91,"b":92,"c":1652,"d":2000,"p":12},{"a":92,"b":93,"c":1693,"d":2000,"p":12},{"a":93,"b":94,"c":1735,"d":2000,"p":12},{"a":94,"b":95,"c":1776,"d":2000,"p":13},{"a":95,"b":95.7,"c":1820,"d":2000,"p":13},
{"a":72,"b":73,"c":8,"d":25,"p":8},{"a":73,"b":73.4,"c":8,"d":25,"p":20},{"a":73.4,"b":73.9,"c":8,"d":25,"p":38},{"a":73.9,"b":74.2,"c":8,"d":25,"p":58},{"a":74.2,"b":74.5,"c":8,"d":25,"p":80},{"a":74.5,"b":95.4,"c":8,"d":25,"p":100},
{"a":72.3,"b":74,"c":25,"d":47,"p":5},{"a":74,"b":75,"c":25,"d":47,"p":10},{"a":75,"b":76,"c":25,"d":47,"p":20},{"a":76,"b":76.8,"c":25,"d":47,"p":30},{"a":76.8,"b":77.6,"c":25,"d":47,"p":38},{"a":77.6,"b":78.5,"c":25,"d":47,"p":48},{"a":78.5,"b":79.4,"c":25,"d":47,"p":60},{"a":79.4,"b":80.2,"c":25,"d":47,"p":72},{"a":80.2,"b":81,"c":25,"d":47,"p":86},{"a":81,"b":82.3,"c":25,"d":47,"p":94},{"a":82.3,"b":95.4,"c":25,"d":47,"p":100},
{"a":72.4,"b":76,"c":47,"d":66,"p":5},{"a":76,"b":78,"c":47,"d":66,"p":7},{"a":78,"b":79.5,"c":47,"d":66,"p":10},{"a":79.5,"b":80.5,"c":47,"d":66,"p":20},{"a":80.5,"b":81.7,"c":47,"d":66,"p":32},{"a":81.7,"b":83,"c":47,"d":66,"p":40},{"a":83,"b":84.8,"c":47,"d":66,"p":48},{"a":84.8,"b":87,"c":47,"d":66,"p":54},{"a":87,"b":89,"c":47,"d":66,"p":60},{"a":89,"b":90.5,"c":47,"d":66,"p":66},{"a":90.5,"b":92.2,"c":47,"d":66,"p":72},{"a":92.2,"b":95.45,"c":47,"d":66,"p":76},
{"a":72.5,"b":76,"c":66,"d":85,"p":4},{"a":76,"b":79,"c":66,"d":85,"p":6},{"a":79,"b":81,"c":66,"d":85,"p":10},{"a":81,"b":83,"c":66,"d":85,"p":14},{"a":83,"b":85,"c":66,"d":85,"p":20},{"a":85,"b":87,"c":66,"d":85,"p":25},{"a":87,"b":89,"c":66,"d":85,"p":30},{"a":89,"b":92,"c":66,"d":85,"p":34},{"a":92,"b":95.45,"c":66,"d":85,"p":36},
{"a":72.7,"b":76,"c":85,"d":108,"p":4},{"a":76,"b":80,"c":85,"d":108,"p":5},{"a":80,"b":85,"c":85,"d":108,"p":8},{"a":85,"b":89,"c":85,"d":108,"p":10},{"a":89,"b":92,"c":85,"d":108,"p":13},{"a":92,"b":95.45,"c":85,"d":108,"p":17},
{"a":72.8,"b":76,"c":108,"d":138,"p":3},{"a":76,"b":84,"c":108,"d":138,"p":5},{"a":84,"b":90,"c":108,"d":138,"p":8},{"a":90,"b":95.45,"c":108,"d":138,"p":10},
{"a":73.1,"b":80,"c":138,"d":172,"p":3},{"a":80,"b":88,"c":138,"d":172,"p":5},{"a":88,"b":95.45,"c":138,"d":172,"p":7},
{"a":73.5,"b":73.8,"c":172,"d":208,"p":3},{"a":73.8,"b":74.2,"c":172,"d":247,"p":3},{"a":74.2,"b":74.6,"c":172,"d":288,"p":3},{"a":74.6,"b":74.95,"c":172,"d":309,"p":3},{"a":74.95,"b":75.35,"c":172,"d":328,"p":3},{"a":75.35,"b":75.8,"c":172,"d":349,"p":3},{"a":75.8,"b":76.3,"c":172,"d":371,"p":3},{"a":76.3,"b":77,"c":172,"d":407,"p":3},{"a":77,"b":77.6,"c":172,"d":432,"p":3},{"a":77.6,"b":78.1,"c":172,"d":450,"p":3},{"a":78.1,"b":79.3,"c":172,"d":469,"p":3},{"a":79.3,"b":80,"c":172,"d":490,"p":3},{"a":80,"b":80.5,"c":172,"d":469,"p":3},{"a":80.5,"b":81,"c":172,"d":449,"p":3},{"a":81,"b":81.5,"c":172,"d":388,"p":3},{"a":81.5,"b":82,"c":172,"d":327,"p":3},{"a":82,"b":82.5,"c":172,"d":288,"p":3},{"a":82.5,"b":83,"c":172,"d":269,"p":3},{"a":83,"b":84,"c":172,"d":247,"p":3},{"a":84,"b":86.6,"c":172,"d":227,"p":3},{"a":86.6,"b":88.2,"c":172,"d":247,"p":3},{"a":88.2,"b":89,"c":172,"d":269,"p":3},{"a":89,"b":89.7,"c":172,"d":289,"p":3},{"a":89.7,"b":90.3,"c":172,"d":309,"p":3},{"a":90.3,"b":90.8,"c":172,"d":328,"p":3},{"a":90.8,"b":91.2,"c":172,"d":349,"p":3},{"a":91.2,"b":91.6,"c":172,"d":388,"p":3},{"a":91.6,"b":92,"c":172,"d":427,"p":3},{"a":92,"b":92.5,"c":172,"d":465,"p":3},{"a":92.5,"b":92.8,"c":172,"d":552,"p":3},{"a":92.8,"b":93.1,"c":172,"d":627,"p":3},{"a":93.1,"b":93.35,"c":172,"d":701,"p":3},{"a":93.35,"b":93.5,"c":172,"d":775,"p":3},{"a":93.5,"b":93.64,"c":172,"d":887,"p":3},{"a":93.5,"b":93.64,"c":1184,"d":1536,"p":3},{"a":93.64,"b":93.83,"c":172,"d":1536,"p":3},{"a":93.83,"b":94.35,"c":172,"d":1557,"p":3},{"a":94.35,"b":95.05,"c":172,"d":1578,"p":3},{"a":95.05,"b":95.45,"c":172,"d":1599,"p":3},{"a":92.67,"b":92.86,"c":1421,"d":1500,"p":3},{"a":92.86,"b":93.17,"c":1377,"d":1518,"p":3},{"a":93.17,"b":93.3,"c":1302,"d":1518,"p":3},{"a":93.3,"b":93.5,"c":1302,"d":1536,"p":3},
{"a":95.9,"b":99.92,"c":8,"d":50,"p":100},
{"a":95.95,"b":96.1,"c":50,"d":100,"p":15},{"a":96.1,"b":96.2,"c":50,"d":100,"p":50},{"a":96.2,"b":96.3,"c":50,"d":100,"p":80},{"a":96.3,"b":99.92,"c":50,"d":100,"p":100},
{"a":96,"b":96.2,"c":100,"d":150,"p":8},{"a":96.2,"b":96.4,"c":100,"d":150,"p":28},{"a":96.4,"b":96.55,"c":100,"d":150,"p":58},{"a":96.55,"b":96.65,"c":100,"d":150,"p":85},{"a":96.65,"b":99.92,"c":100,"d":150,"p":100},
{"a":96,"b":96.3,"c":150,"d":200,"p":6},{"a":96.3,"b":96.55,"c":150,"d":200,"p":26},{"a":96.55,"b":96.75,"c":150,"d":200,"p":52},{"a":96.75,"b":96.95,"c":150,"d":200,"p":85},{"a":96.95,"b":99.92,"c":150,"d":200,"p":100},
{"a":96.05,"b":96.4,"c":200,"d":250,"p":5},{"a":96.4,"b":96.7,"c":200,"d":250,"p":20},{"a":96.7,"b":96.95,"c":200,"d":250,"p":44},{"a":96.95,"b":97.2,"c":200,"d":250,"p":80},{"a":97.2,"b":99.92,"c":200,"d":250,"p":100},
{"a":96.1,"b":96.55,"c":250,"d":290,"p":5},{"a":96.55,"b":96.85,"c":250,"d":290,"p":18},{"a":96.85,"b":97.15,"c":250,"d":290,"p":42},{"a":97.15,"b":97.45,"c":250,"d":290,"p":72},{"a":97.45,"b":99.92,"c":250,"d":290,"p":100},
{"a":96.15,"b":96.6,"c":290,"d":327,"p":5},{"a":96.6,"b":96.95,"c":290,"d":327,"p":16},{"a":96.95,"b":97.25,"c":290,"d":327,"p":36},{"a":97.25,"b":97.55,"c":290,"d":327,"p":60},{"a":97.55,"b":97.85,"c":290,"d":327,"p":85},{"a":97.85,"b":99.92,"c":290,"d":327,"p":100},
{"a":96.15,"b":96.6,"c":327,"d":349,"p":5},{"a":96.6,"b":97,"c":327,"d":349,"p":14},{"a":97,"b":97.3,"c":327,"d":349,"p":32},{"a":97.3,"b":97.6,"c":327,"d":349,"p":52},{"a":97.6,"b":98,"c":327,"d":349,"p":75},{"a":98,"b":99.92,"c":327,"d":349,"p":90},
{"a":96.2,"b":96.7,"c":349,"d":368,"p":5},{"a":96.7,"b":97.1,"c":349,"d":368,"p":13},{"a":97.1,"b":97.4,"c":349,"d":368,"p":30},{"a":97.4,"b":97.8,"c":349,"d":368,"p":52},{"a":97.8,"b":98.3,"c":349,"d":368,"p":70},{"a":98.3,"b":99.92,"c":349,"d":368,"p":82},
{"a":96.2,"b":96.7,"c":368,"d":388,"p":4},{"a":96.7,"b":97.2,"c":368,"d":388,"p":12},{"a":97.2,"b":97.6,"c":368,"d":388,"p":30},{"a":97.6,"b":98,"c":368,"d":388,"p":50},{"a":98,"b":98.6,"c":368,"d":388,"p":64},{"a":98.6,"b":99.92,"c":368,"d":388,"p":74},
{"a":96.2,"b":96.8,"c":388,"d":408,"p":4},{"a":96.8,"b":97.2,"c":388,"d":408,"p":12},{"a":97.2,"b":97.7,"c":388,"d":408,"p":28},{"a":97.7,"b":98.2,"c":388,"d":408,"p":46},{"a":98.2,"b":99,"c":388,"d":408,"p":58},{"a":99,"b":99.92,"c":388,"d":408,"p":66},
{"a":96.2,"b":96.8,"c":408,"d":432,"p":4},{"a":96.8,"b":97.3,"c":408,"d":432,"p":11},{"a":97.3,"b":97.8,"c":408,"d":432,"p":26},{"a":97.8,"b":98.4,"c":408,"d":432,"p":42},{"a":98.4,"b":99.2,"c":408,"d":432,"p":52},{"a":99.2,"b":99.92,"c":408,"d":432,"p":58},
{"a":96.25,"b":96.9,"c":432,"d":468,"p":4},{"a":96.9,"b":97.4,"c":432,"d":468,"p":10},{"a":97.4,"b":98,"c":432,"d":468,"p":24},{"a":98,"b":98.7,"c":432,"d":468,"p":36},{"a":98.7,"b":99.92,"c":432,"d":468,"p":48},
{"a":96.3,"b":97,"c":468,"d":520,"p":4},{"a":97,"b":97.6,"c":468,"d":520,"p":10},{"a":97.6,"b":98.2,"c":468,"d":520,"p":20},{"a":98.2,"b":99,"c":468,"d":520,"p":32},{"a":99,"b":99.92,"c":468,"d":520,"p":42},
{"a":96.45,"b":97.2,"c":520,"d":590,"p":4},{"a":97.2,"b":97.8,"c":520,"d":590,"p":9},{"a":97.8,"b":98.4,"c":520,"d":590,"p":16},{"a":98.4,"b":99.2,"c":520,"d":590,"p":26},{"a":99.2,"b":99.92,"c":520,"d":590,"p":36},
{"a":96.65,"b":97.4,"c":590,"d":660,"p":4},{"a":97.4,"b":98.1,"c":590,"d":660,"p":9},{"a":98.1,"b":98.8,"c":590,"d":660,"p":14},{"a":98.8,"b":99.92,"c":590,"d":660,"p":26},
{"a":96.85,"b":97.6,"c":660,"d":740,"p":4},{"a":97.6,"b":98.4,"c":660,"d":740,"p":8},{"a":98.4,"b":99.92,"c":660,"d":740,"p":18},
{"a":97.1,"b":97.9,"c":740,"d":820,"p":4},{"a":97.9,"b":98.8,"c":740,"d":820,"p":8},{"a":98.8,"b":99.92,"c":740,"d":820,"p":14},
{"a":97.45,"b":98.2,"c":820,"d":900,"p":4},{"a":98.2,"b":99.1,"c":820,"d":900,"p":7},{"a":99.1,"b":99.92,"c":820,"d":900,"p":11},
{"a":97.8,"b":98.6,"c":900,"d":980,"p":4},{"a":98.6,"b":99.3,"c":900,"d":980,"p":6},{"a":99.3,"b":99.92,"c":900,"d":980,"p":10},
{"a":98.1,"b":99,"c":980,"d":1100,"p":3},{"a":99,"b":99.92,"c":980,"d":1100,"p":8},{"a":98.7,"b":99.4,"c":1100,"d":1200,"p":3},{"a":99.4,"b":99.92,"c":1100,"d":1200,"p":7},{"a":99,"b":99.92,"c":1200,"d":1350,"p":4},{"a":99.35,"b":99.92,"c":1350,"d":1480,"p":3},{"a":99.7,"b":99.92,"c":1480,"d":1580,"p":3}
],
"e":[
{"z":0,"c":0,"d":20,"e":10},{"z":0,"c":20,"d":40,"e":10},{"z":0,"c":40,"d":60,"e":3.15},{"z":0,"c":60,"d":80,"e":1.2},{"z":0,"c":80,"d":100,"e":0.75},{"z":0,"c":100,"d":120,"e":0.6},{"z":0,"c":120,"d":140,"e":0.5},{"z":0,"c":140,"d":160,"e":0.42},{"z":0,"c":160,"d":180,"e":0.36},{"z":0,"c":180,"d":200,"e":0.33},{"z":0,"c":200,"d":220,"e":0.31},{"z":0,"c":220,"d":240,"e":0.3},{"z":0,"c":240,"d":260,"e":0.3},{"z":0,"c":260,"d":280,"e":0.31},{"z":0,"c":280,"d":300,"e":0.33},{"z":0,"c":300,"d":320,"e":0.35},{"z":0,"c":320,"d":340,"e":0.37},{"z":0,"c":340,"d":360,"e":0.39},{"z":0,"c":360,"d":380,"e":0.41},{"z":0,"c":380,"d":400,"e":0.43},{"z":0,"c":400,"d":420,"e":0.44},{"z":0,"c":420,"d":440,"e":0.46},{"z":0,"c":440,"d":460,"e":0.47},{"z":0,"c":460,"d":480,"e":0.48},{"z":0,"c":480,"d":500,"e":0.5},{"z":0,"c":500,"d":520,"e":0.51},{"z":0,"c":520,"d":540,"e":0.53},{"z":0,"c":540,"d":560,"e":0.55},{"z":0,"c":560,"d":580,"e":0.57},{"z":0,"c":580,"d":600,"e":0.59},{"z":0,"c":600,"d":620,"e":0.61},{"z":0,"c":620,"d":640,"e":0.63},{"z":0,"c":640,"d":660,"e":0.65},{"z":0,"c":660,"d":680,"e":0.66},{"z":0,"c":680,"d":700,"e":0.67},{"z":0,"c":700,"d":720,"e":0.69},{"z":0,"c":720,"d":740,"e":0.7},{"z":0,"c":740,"d":760,"e":0.72},{"z":0,"c":760,"d":780,"e":0.73},{"z":0,"c":780,"d":800,"e":0.75},{"z":0,"c":800,"d":820,"e":0.76},{"z":0,"c":820,"d":840,"e":0.78},{"z":0,"c":840,"d":860,"e":0.8},{"z":0,"c":860,"d":880,"e":0.82},{"z":0,"c":880,"d":900,"e":0.84},{"z":0,"c":900,"d":920,"e":0.87},{"z":0,"c":920,"d":940,"e":0.9},{"z":0,"c":940,"d":960,"e":0.92},{"z":0,"c":960,"d":980,"e":0.94},{"z":0,"c":980,"d":1000,"e":0.95},{"z":0,"c":1000,"d":1020,"e":0.96},{"z":0,"c":1020,"d":1040,"e":0.97},{"z":0,"c":1040,"d":1060,"e":0.98},{"z":0,"c":1060,"d":1080,"e":0.99},{"z":0,"c":1080,"d":1100,"e":1},{"z":0,"c":1100,"d":1120,"e":1.01},{"z":0,"c":1120,"d":1140,"e":1.03},{"z":0,"c":1140,"d":1160,"e":1.04},{"z":0,"c":1160,"d":1180,"e":1.05},{"z":0,"c":1180,"d":1200,"e":1.07},{"z":0,"c":1200,"d":1220,"e":1.08},{"z":0,"c":1220,"d":1240,"e":1.1},{"z":0,"c":1240,"d":1260,"e":1.12},{"z":0,"c":1260,"d":1280,"e":1.14},{"z":0,"c":1280,"d":1300,"e":1.16},{"z":0,"c":1300,"d":1320,"e":1.18},{"z":0,"c":1320,"d":1340,"e":1.21},{"z":0,"c":1340,"d":1360,"e":1.25},{"z":0,"c":1360,"d":1380,"e":1.33},{"z":0,"c":1380,"d":1400,"e":1.45},{"z":0,"c":1400,"d":1420,"e":1.6},{"z":0,"c":1420,"d":1440,"e":1.73},{"z":0,"c":1440,"d":1460,"e":1.87},{"z":0,"c":1460,"d":1480,"e":2},{"z":0,"c":1480,"d":1500,"e":2.2},{"z":0,"c":1500,"d":1520,"e":2.4},{"z":0,"c":1520,"d":1540,"e":2.58},{"z":0,"c":1540,"d":1560,"e":2.78},{"z":0,"c":1560,"d":1580,"e":2.98},{"z":0,"c":1580,"d":1600,"e":3.17},{"z":0,"c":1600,"d":1620,"e":3.35},{"z":0,"c":1620,"d":1640,"e":3.55},{"z":0,"c":1640,"d":1660,"e":3.73},{"z":0,"c":1660,"d":1680,"e":3.9},{"z":0,"c":1680,"d":1700,"e":4.07},{"z":0,"c":1700,"d":1720,"e":4.25},{"z":0,"c":1720,"d":1740,"e":4.42},{"z":0,"c":1740,"d":1760,"e":4.6},{"z":0,"c":1760,"d":1780,"e":4.78},{"z":0,"c":1780,"d":1800,"e":4.95},{"z":0,"c":1800,"d":1820,"e":5.15},{"z":0,"c":1820,"d":1840,"e":5.35},{"z":0,"c":1840,"d":1860,"e":5.6},{"z":0,"c":1860,"d":1880,"e":5.82},{"z":0,"c":1880,"d":1900,"e":6.05},{"z":0,"c":1900,"d":1920,"e":6.4},{"z":0,"c":1920,"d":1940,"e":6.72},{"z":0,"c":1940,"d":1960,"e":7.05},{"z":0,"c":1960,"d":1980,"e":7.4},{"z":0,"c":1980,"d":2000,"e":7.76}
],
"cb":[
{"a":0,"b":1,"c":0,"d":2,"p":1},{"a":0,"b":1,"c":2,"d":4,"p":3},{"a":0,"b":1,"c":4,"d":6,"p":5},{"a":0,"b":1,"c":6,"d":8,"p":7},{"a":0,"b":1,"c":8,"d":10,"p":9},{"a":0,"b":1,"c":10,"d":12,"p":11},{"a":0,"b":1,"c":12,"d":14,"p":13},{"a":0,"b":1,"c":14,"d":16,"p":15},{"a":0,"b":1,"c":16,"d":18,"p":17},{"a":0,"b":1,"c":18,"d":20,"p":19},{"a":0,"b":1,"c":20,"d":22,"p":21},{"a":0,"b":1,"c":22,"d":24,"p":23},{"a":0,"b":1,"c":24,"d":26,"p":25},{"a":0,"b":1,"c":26,"d":28,"p":27},{"a":0,"b":1,"c":28,"d":30,"p":29},{"a":0,"b":1,"c":30,"d":32,"p":31},{"a":0,"b":1,"c":32,"d":34,"p":33},{"a":0,"b":1,"c":34,"d":36,"p":35},{"a":0,"b":1,"c":36,"d":38,"p":37},{"a":0,"b":1,"c":38,"d":40,"p":39},{"a":0,"b":1,"c":40,"d":42,"p":41},{"a":0,"b":1,"c":42,"d":44,"p":43},{"a":0,"b":1,"c":44,"d":46,"p":45},{"a":0,"b":1,"c":46,"d":48,"p":47},{"a":0,"b":1,"c":48,"d":50,"p":49},{"a":0,"b":1,"c":50,"d":52,"p":51},{"a":0,"b":1,"c":52,"d":54,"p":53},{"a":0,"b":1,"c":54,"d":56,"p":55},{"a":0,"b":1,"c":56,"d":58,"p":57},{"a":0,"b":1,"c":58,"d":60,"p":59},{"a":0,"b":1,"c":60,"d":62,"p":61},{"a":0,"b":1,"c":62,"d":64,"p":63},{"a":0,"b":1,"c":64,"d":66,"p":65},{"a":0,"b":1,"c":66,"d":68,"p":67},{"a":0,"b":1,"c":68,"d":70,"p":69},{"a":0,"b":1,"c":70,"d":72,"p":71},{"a":0,"b":1,"c":72,"d":74,"p":73},{"a":0,"b":1,"c":74,"d":76,"p":75},{"a":0,"b":1,"c":76,"d":78,"p":77},{"a":0,"b":1,"c":78,"d":80,"p":79},{"a":0,"b":1,"c":80,"d":82,"p":81},{"a":0,"b":1,"c":82,"d":84,"p":83},{"a":0,"b":1,"c":84,"d":86,"p":85},{"a":0,"b":1,"c":86,"d":88,"p":87},{"a":0,"b":1,"c":88,"d":90,"p":89},{"a":0,"b":1,"c":90,"d":92,"p":91},{"a":0,"b":1,"c":92,"d":94,"p":93},{"a":0,"b":1,"c":94,"d":96,"p":95},{"a":0,"b":1,"c":96,"d":98,"p":97},{"a":0,"b":1,"c":98,"d":100,"p":99}
]},
"bounds":"flush","spacing":73,
"resolve":{"scale":{"color":"independent","stroke":"independent"}},
"hconcat":[
{"width":2122,"height":1210,"layer":[
{"data":{"name":"h"},"mark":{"type":"rect","strokeWidth":0.8},"encoding":{
"x":{"field":"a","type":"quantitative","scale":{"domain":[0,100],"nice":false},"axis":{"values":[0,10,20,30,40,50,60,70,80,90,100],"grid":false,"domainColor":"#b4b4b4","domainWidth":3,"tickSize":0,"labelFont":"Liberation Sans","labelFontSize":42,"labelFontWeight":"bold","labelColor":"#111","labelPadding":15,"labelFlush":false,"title":"Gait cycle τ\u00a0\u00a0[%]","titleFont":"Open Sans","titleFontSize":58,"titleFontWeight":"normal","titleColor":"#111","titleX":1093,"titleY":128}},
"x2":{"field":"b"},
"y":{"field":"c","type":"quantitative","scale":{"domain":[0,2011.6],"nice":false},"axis":{"values":[0,200,400,600,800,1000,1200,1400,1600,1800,2000],"format":"d","grid":false,"domainColor":"#b4b4b4","domainWidth":3,"tickSize":0,"labelFont":"Liberation Sans","labelFontSize":44,"labelFontWeight":"bold","labelColor":"#111","labelPadding":8,"title":"Gear ratio\u00a0\u00a0i","titleFont":"Liberation Sans","titleFontSize":59,"titleFontWeight":"normal","titleColor":"#111","titleX":-137,"titleY":602}},
"y2":{"field":"d"},
"color":{"field":"p","type":"quantitative","legend":null,"scale":{"type":"linear","interpolate":"rgb","domain":[0,3,10,36,60,87,100],"range":["#152a8a","#152a8a","#0000ff","#00ffff","#ffff00","#ff0000","#7f0000"]}},
"stroke":{"field":"p","type":"quantitative","legend":null,"scale":{"type":"linear","interpolate":"rgb","domain":[0,3,10,36,60,87,100],"range":["#152a8a","#152a8a","#0000ff","#00ffff","#ffff00","#ff0000","#7f0000"]}}
}},
{"data":{"values":[{"t":-3.8,"g":776,"o":1},{"t":32.8,"g":776,"o":2},{"t":32.8,"g":580,"o":3},{"t":85.2,"g":580,"o":4},{"t":85.2,"g":776,"o":5},{"t":101.3,"g":776,"o":6}]},"mark":{"type":"line","color":"#ff0000","strokeWidth":10,"strokeDash":[12.5,12.5],"clip":false},"encoding":{"x":{"field":"t","type":"quantitative","scale":{"domain":[0,100],"nice":false}},"y":{"field":"g","type":"quantitative","scale":{"domain":[0,2011.6],"nice":false}},"order":{"field":"o","type":"quantitative"}}},
{"data":{"values":[{"t":-4.33,"t2":100.5,"g":1513},{"t":-4.33,"t2":100.5,"g":75}]},"mark":{"type":"rule","color":"#000000","strokeWidth":11,"strokeDash":[50,37],"clip":false},"encoding":{"x":{"field":"t","type":"quantitative","scale":{"domain":[0,100],"nice":false}},"x2":{"field":"t2"},"y":{"field":"g","type":"quantitative","scale":{"domain":[0,2011.6],"nice":false}}}},
{"data":{"values":[{"t":-6.46,"g":1288,"s":"g"}]},"mark":{"type":"text","font":"Liberation Sans","fontSize":34,"angle":270,"baseline":"middle","color":"#111"},"encoding":{"x":{"field":"t","type":"quantitative","scale":{"domain":[0,100],"nice":false}},"y":{"field":"g","type":"quantitative","scale":{"domain":[0,2011.6],"nice":false}},"text":{"field":"s"}}}
]},
{"bounds":"flush","spacing":105,"resolve":{"scale":{"color":"independent","stroke":"independent"}},"hconcat":[
{"width":253,"height":1203,"view":{"stroke":"#cfcfcf"},"layer":[
{"data":{"name":"e"},"mark":{"type":"rect","fill":"#00008b","stroke":"#9a9ab4","strokeWidth":2},"encoding":{
"x":{"field":"z","type":"quantitative","scale":{"domain":[0,10],"nice":false},"axis":{"values":[0,5,10],"grid":false,"domain":false,"tickSize":0,"labelFont":"Open Sans","labelFontSize":50,"labelColor":"#111","labelPadding":14,"labelFlush":false,"title":["Angular error","δₘₐₓ [°]"],"titleFont":"Open Sans","titleFontSize":57,"titleFontWeight":"normal","titleColor":"#111","titleLineHeight":80,"titleX":179,"titleY":115}},
"x2":{"field":"e"},
"y":{"field":"c","type":"quantitative","scale":{"domain":[0,2000],"nice":false},"axis":{"orient":"right","values":[200,400,600,800,1000,1200,1400,1600,1800],"grid":false,"domain":false,"labels":false,"title":null,"tickSize":-10,"tickColor":"#c8c8c8","tickWidth":2}},
"y2":{"field":"d"}}},
{"data":{"values":[{"t":-1.03,"t2":11.26,"g":1501},{"t":-1.03,"t2":11.26,"g":63}]},"mark":{"type":"rule","color":"#000000","strokeWidth":11,"strokeDash":[50,37],"clip":false},"encoding":{"x":{"field":"t","type":"quantitative","scale":{"domain":[0,10],"nice":false}},"x2":{"field":"t2"},"y":{"field":"g","type":"quantitative","scale":{"domain":[0,2000],"nice":false}}}}
]},
{"width":48,"height":1203,"layer":[
{"data":{"name":"cb"},"mark":{"type":"rect","strokeWidth":0.8},"encoding":{
"x":{"field":"a","type":"quantitative","scale":{"domain":[0,1],"nice":false},"axis":null},
"x2":{"field":"b"},
"y":{"field":"c","type":"quantitative","scale":{"domain":[0,105.15],"nice":false},"axis":null},
"y2":{"field":"d"},
"color":{"field":"p","type":"quantitative","legend":null,"scale":{"type":"linear","interpolate":"rgb","domain":[0,10,36,60,87,100],"range":["#00007f","#0000ff","#00ffff","#ffff00","#ff0000","#7f0000"]}},
"stroke":{"field":"p","type":"quantitative","legend":null,"scale":{"type":"linear","interpolate":"rgb","domain":[0,10,36,60,87,100],"range":["#00007f","#0000ff","#00ffff","#ffff00","#ff0000","#7f0000"]}}
}},
{"data":{"values":[{"a":0,"b":0.25,"v":10},{"a":0.75,"b":1,"v":10},{"a":0,"b":0.25,"v":20},{"a":0.75,"b":1,"v":20},{"a":0,"b":0.25,"v":30},{"a":0.75,"b":1,"v":30},{"a":0,"b":0.25,"v":40},{"a":0.75,"b":1,"v":40},{"a":0,"b":0.25,"v":50},{"a":0.75,"b":1,"v":50},{"a":0,"b":0.25,"v":60},{"a":0.75,"b":1,"v":60},{"a":0,"b":0.25,"v":70},{"a":0.75,"b":1,"v":70},{"a":0,"b":0.25,"v":80},{"a":0.75,"b":1,"v":80},{"a":0,"b":0.25,"v":90},{"a":0.75,"b":1,"v":90}]},"mark":{"type":"rule","color":"#000000","opacity":0.45,"strokeWidth":2},"encoding":{"x":{"field":"a","type":"quantitative","scale":{"domain":[0,1],"nice":false}},"x2":{"field":"b"},"y":{"field":"v","type":"quantitative","scale":{"domain":[0,105.15],"nice":false}}}},
{"data":{"values":[{"x":1.73,"y":98.2,"s":"100"},{"x":1.73,"y":88.4,"s":"90"},{"x":1.73,"y":78.3,"s":"80"},{"x":1.73,"y":68.8,"s":"70"},{"x":1.73,"y":59.3,"s":"60"},{"x":1.73,"y":49.4,"s":"50"},{"x":1.73,"y":39.7,"s":"40"},{"x":1.73,"y":29.7,"s":"30"},{"x":1.73,"y":20,"s":"20"},{"x":1.73,"y":10.1,"s":"10"},{"x":1.73,"y":0.3,"s":"0"}]},"mark":{"type":"text","align":"left","baseline":"middle","font":"Open Sans","fontSize":50,"color":"#111"},"encoding":{"x":{"field":"x","type":"quantitative","scale":{"domain":[0,1],"nice":false}},"y":{"field":"y","type":"quantitative","scale":{"domain":[0,105.15],"nice":false}},"text":{"field":"s"}}},
{"data":{"values":[{"x":-1.17,"y":115,"s":"Power"},{"x":-1.17,"y":108.4,"s":"P₁ [W]"}]},"mark":{"type":"text","align":"left","font":"Open Sans","fontSize":57,"color":"#111"},"encoding":{"x":{"field":"x","type":"quantitative","scale":{"domain":[0,1],"nice":false}},"y":{"field":"y","type":"quantitative","scale":{"domain":[0,105.15],"nice":false}},"text":{"field":"s"}}}
]}
]}
]}
